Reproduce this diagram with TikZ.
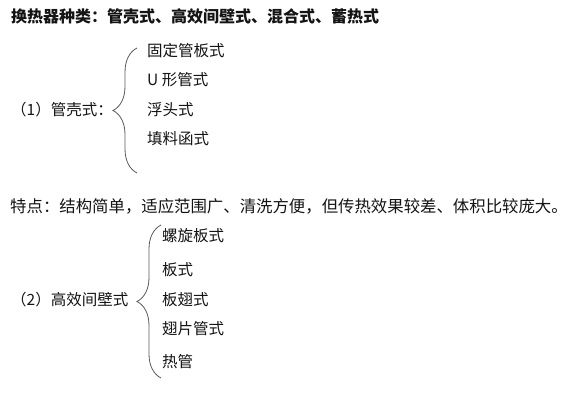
\documentclass[tikz,border=0pt]{standalone}
\usepackage{fontspec}
\setmainfont{Noto Sans CJK SC}
\usetikzlibrary{decorations.pathreplacing,positioning}
\definecolor{ink}{RGB}{20,20,20}
\definecolor{bracegray}{RGB}{90,90,90}
\tikzset{
  txt/.style={anchor=west,inner sep=0pt,text=ink,
              font=\fontsize{15.5pt}{18pt}\selectfont},
  head/.style={txt,font=\fontsize{16pt}{19pt}\selectfont\bfseries},
  brc/.style={decorate,decoration={brace,amplitude=24pt},
              draw=bracegray,line width=0.8pt}
}

\begin{document}
\begin{tikzpicture}[x=1pt,y=-1pt]
  \useasboundingbox[fill=white] (0,0) rectangle (570,409);
  \node[head] (title) at (11,16) {换热器种类：管壳式、高效间壁式、混合式、蓄热式};
  % group (1)
  \node[txt] (shell) at (11,110) {（1）管壳式：};
  \coordinate (b1top) at (137,48);
  \coordinate (b1bot) at (137,173);
  \draw[brc] (b1bot) -- (b1top);
  \node[txt] (s1) at (147,51) {固定管板式};
  \node[txt] (s2) at (147,80) {U 形管式};
  \node[txt] (s3) at (147,110) {浮头式};
  \node[txt] (s4) at (147,139) {填料函式};
  \node[txt,font=\fontsize{16.4pt}{19pt}\selectfont] (feat) at (10,206)
    {特点：结构简单，适应范围广、清洗方便，但传热效果较差、体积比较庞大。};
  % group (2)
  \node[txt] (wall) at (11,300) {（2）高效间壁式};
  \coordinate (b2top) at (161,225);
  \coordinate (b2bot) at (161,378);
  \draw[brc] (b2bot) -- (b2top);
  \node[txt] (w1) at (162,236) {螺旋板式};
  \node[txt] (w2) at (162,270) {板式};
  \node[txt] (w3) at (162,300) {板翅式};
  \node[txt] (w4) at (162,329) {翅片管式};
  \node[txt] (w5) at (162,362) {热管};
\end{tikzpicture}
\end{document}
